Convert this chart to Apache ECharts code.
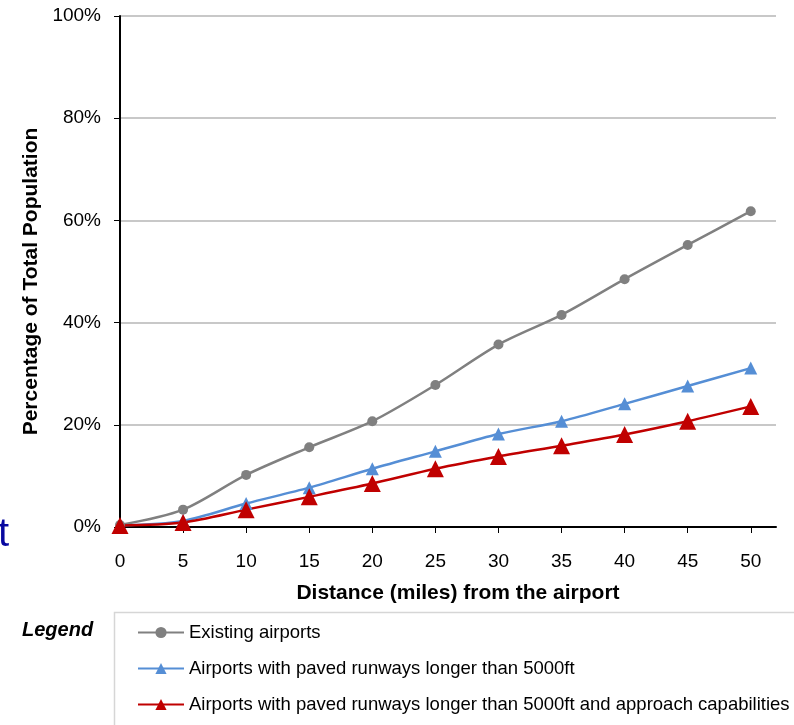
<!DOCTYPE html>
<html>
<head>
<meta charset="utf-8">
<script src="https://cdn.jsdelivr.net/npm/echarts@6/dist/echarts.min.js"></script>
<style>
  html, body { margin: 0; padding: 0; background: #fff; }
  #chart { width: 794px; height: 725px; }
</style>
</head>
<body>
<div id="chart"></div>
<script>
// Distance from the airport (miles)
const distance = [0, 5, 10, 15, 20, 25, 30, 35, 40, 45, 50];
// Share of total population within the distance (%)
const existingAirports = [0.4, 3.4, 10.2, 15.6, 20.7, 27.8, 35.7, 41.5, 48.5, 55.2, 61.8];
const pavedRunways = [0.3, 1.2, 4.6, 7.7, 11.4, 14.8, 18.2, 20.7, 24.1, 27.6, 31.1];
const pavedWithApproach = [0.3, 0.9, 3.4, 5.9, 8.5, 11.4, 13.8, 15.9, 18.1, 20.7, 23.6];
const yTicks = [0, 20, 40, 60, 80, 100];

const seriesNames = [
  'Existing airports',
  'Airports with paved runways longer than 5000ft',
  'Airports with paved runways longer than 5000ft and approach capabilities'
];

const FONT = '"Liberation Sans", Arial, sans-serif';
const pair = arr => distance.map((d, i) => [d, arr[i]]);

const chart = echarts.init(document.getElementById('chart'), null, { renderer: 'canvas' });

chart.setOption({
  animation: false,
  backgroundColor: '#ffffff',
  textStyle: { fontFamily: FONT },
  grid: { left: 120, right: 18, top: 16, bottom: 198, containLabel: false },
  xAxis: {
    type: 'value',
    min: 0,
    max: 52,
    interval: 5,
    name: 'Distance (miles) from the airport',
    nameLocation: 'middle',
    nameGap: 56,
    nameTextStyle: {
      fontFamily: FONT, fontSize: 21, fontWeight: 'bold', color: '#000',
      padding: [0, 0, 0, 20]
    },
    axisLine: { show: true, onZero: false, lineStyle: { color: '#000', width: 2 } },
    axisTick: { show: true, length: 6, customValues: distance, lineStyle: { color: '#000', width: 1 } },
    axisLabel: { customValues: distance, fontFamily: FONT, fontSize: 19, color: '#000', margin: 25 },
    splitLine: { show: false }
  },
  yAxis: {
    type: 'value',
    min: 0,
    max: 100,
    interval: 20,
    name: 'Percentage of Total Population',
    nameLocation: 'middle',
    nameGap: 77,
    nameTextStyle: {
      fontFamily: FONT, fontSize: 21, fontWeight: 'bold', color: '#000',
      padding: [0, 20, 0, 0]
    },
    axisLine: { show: true, lineStyle: { color: '#000', width: 2 } },
    axisTick: { show: true, length: 6, customValues: yTicks, lineStyle: { color: '#000', width: 1 } },
    axisLabel: {
      customValues: yTicks,
      formatter: '{value}%',
      fontFamily: FONT, fontSize: 19, color: '#000', margin: 19
    },
    splitLine: { show: true, lineStyle: { color: '#c8c8c8', width: 2 } }
  },
  legend: {
    orient: 'vertical',
    left: 137,
    top: 623,
    padding: 0,
    itemWidth: 46,
    itemHeight: 14,
    itemGap: 17,
    selectedMode: false,
    textStyle: { fontFamily: FONT, fontSize: 18.5, color: '#000' },
    data: seriesNames
  },
  graphic: [
    {
      type: 'rect',
      silent: true,
      shape: { x: 114.5, y: 612.5, width: 720, height: 160 },
      style: { fill: 'none', stroke: '#d6d6d6', lineWidth: 1.5 }
    },
    {
      type: 'text',
      silent: true,
      left: 22,
      top: 620,
      style: { text: 'Legend', font: 'italic bold 20px ' + FONT, fill: '#000' }
    },
    {
      type: 'text',
      silent: true,
      left: -2,
      top: 515,
      style: { text: 't', font: '40px ' + FONT, fill: '#0808a0' }
    }
  ],
  series: [
    {
      name: seriesNames[0],
      type: 'line',
      data: pair(existingAirports),
      smooth: 0.3,
      symbol: 'circle',
      symbolSize: 10,
      lineStyle: { color: '#808080', width: 2.5 },
      itemStyle: { color: '#808080' }
    },
    {
      name: seriesNames[1],
      type: 'line',
      data: pair(pavedRunways),
      smooth: 0.3,
      symbol: 'triangle',
      symbolSize: 13,
      lineStyle: { color: '#558ed5', width: 2.5 },
      itemStyle: { color: '#558ed5' }
    },
    {
      name: seriesNames[2],
      type: 'line',
      data: pair(pavedWithApproach),
      smooth: 0.3,
      symbol: 'triangle',
      symbolSize: 17,
      lineStyle: { color: '#c00000', width: 2.5 },
      itemStyle: { color: '#c00000' }
    }
  ]
});
</script>
</body>
</html>
